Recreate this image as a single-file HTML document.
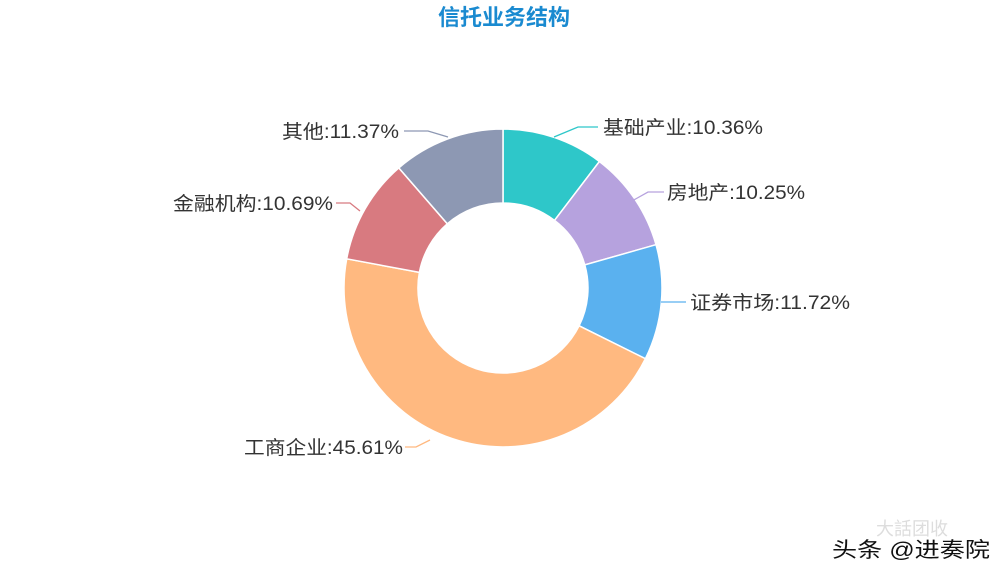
<!DOCTYPE html>
<html><head><meta charset="utf-8"><style>
html,body{margin:0;padding:0;background:#fff}
svg{display:block}
text{font-family:"Liberation Sans","Noto Sans CJK SC",sans-serif}
</style></head><body>
<svg width="1007" height="577" viewBox="0 0 1007 577">
<text x="504" y="25" text-anchor="middle" font-size="22" font-weight="bold" fill="#1a8ad0">信托业务结构</text>
<g stroke="#fff" stroke-width="1.5">
<path d="M503,129 A159,159 0 0 1 599.4,161.5 L554.5,220.4 A85,85 0 0 0 503,203 Z" fill="#2ec7c9"/>
<path d="M599.4,161.5 A159,159 0 0 1 656.0,244.7 L584.8,264.9 A85,85 0 0 0 554.5,220.4 Z" fill="#b6a2de"/>
<path d="M656.0,244.7 A159,159 0 0 1 645.4,358.7 L579.1,325.8 A85,85 0 0 0 584.8,264.9 Z" fill="#5ab1ef"/>
<path d="M645.4,358.7 A159,159 0 0 1 346.7,258.8 L419.4,272.4 A85,85 0 0 0 579.1,325.8 Z" fill="#ffb980"/>
<path d="M346.7,258.8 A159,159 0 0 1 398.8,167.9 L447.3,223.8 A85,85 0 0 0 419.4,272.4 Z" fill="#d87a80"/>
<path d="M398.8,167.9 A159,159 0 0 1 503,129 L503,203 A85,85 0 0 0 447.3,223.8 Z" fill="#8d98b3"/>
</g>
<g fill="none" stroke-width="1.3">
<polyline points="554,137 578,127 598,127" stroke="#2ec7c9"/>
<polyline points="632,201 648,192 664,192" stroke="#b6a2de"/>
<polyline points="661,302 686,302" stroke="#5ab1ef"/>
<polyline points="430,440 416,447 405,447" stroke="#ffb980"/>
<polyline points="360,211 350,203 336,203" stroke="#d87a80"/>
<polyline points="448,137 428,131 404,131" stroke="#8d98b3"/>
</g>
<g font-size="19" fill="#333" lengthAdjust="spacingAndGlyphs">
<text x="603" y="134" textLength="160" lengthAdjust="spacingAndGlyphs">基础产业:10.36%</text>
<text x="667" y="199" textLength="138" lengthAdjust="spacingAndGlyphs">房地产:10.25%</text>
<text x="690" y="309" textLength="160" lengthAdjust="spacingAndGlyphs">证券市场:11.72%</text>
<text x="244" y="454" textLength="159" lengthAdjust="spacingAndGlyphs">工商企业:45.61%</text>
<text x="173" y="210" textLength="160" lengthAdjust="spacingAndGlyphs">金融机构:10.69%</text>
<text x="282" y="138" textLength="117" lengthAdjust="spacingAndGlyphs">其他:11.37%</text>
</g>
<text x="876" y="535" font-size="18" fill="#ddd">大話团收</text>
<text x="832" y="557" font-size="21" fill="#111" textLength="158" lengthAdjust="spacingAndGlyphs">头条 @进奏院</text>
</svg>
</body></html>
